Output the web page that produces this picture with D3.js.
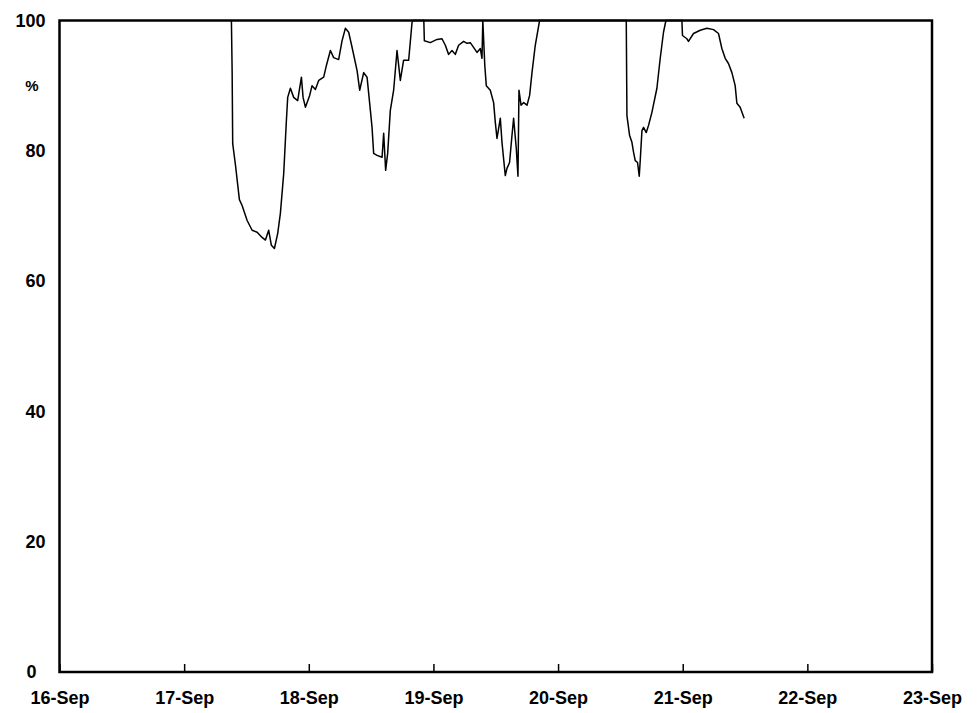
<!DOCTYPE html>
<html>
<head>
<meta http-equiv="content-type" content="text/html; charset=UTF8">
<script src="https://cdn.jsdelivr.net/npm/d3@7/dist/d3.min.js"></script>
<style>
body {
	margin: 0;
	background: #fff;
}
.chart text {
	font-family: "Liberation Sans", Arial, sans-serif;
	font-weight: bold;
	font-size: 18px;
	fill: #000;
}
</style>
</head>
<body>
<svg class="chart" width="980" height="713"></svg>
</body>
<script>
// tick labels, one per day
var dayLabels = ["16-Sep", "17-Sep", "18-Sep", "19-Sep", "20-Sep", "21-Sep", "22-Sep", "23-Sep"];
var yTicks = [0, 20, 40, 60, 80, 100];

// hours since 16-Sep 00:00 and the % reading
var hours = [33.10, 33.24, 33.35, 33.87, 34.64, 35.16, 36.13, 37.09, 38.05, 39.01, 39.65, 40.28, 40.80, 41.38, 42.01, 42.53,
	43.17, 43.69, 43.94, 44.46, 45.09, 45.86, 46.58, 46.90, 47.35, 48.17, 48.63, 49.27, 49.91, 50.87, 51.39, 52.16,
	52.79, 53.75, 54.41, 55.04, 55.68, 56.33, 57.30, 57.80, 58.57, 59.22, 59.86, 60.18, 60.49, 61.14, 62.11, 62.42,
	62.80, 63.19, 63.70, 64.34, 64.99, 65.63, 66.26, 67.23, 67.88, 68.04, 70.15, 70.25, 71.40, 72.69, 73.65, 74.29,
	74.92, 75.58, 76.21, 76.85, 77.81, 78.47, 79.10, 80.39, 81.03, 81.35, 81.51, 81.89, 82.18, 82.95, 83.59, 83.91,
	84.24, 84.55, 84.88, 85.20, 85.51, 85.84, 86.16, 86.66, 87.13, 87.44, 87.95, 88.28, 88.47, 88.87, 89.37, 90.02,
	90.52, 90.98, 91.61, 92.44, 109.13, 109.26, 109.76, 110.22, 110.53, 110.86, 111.30, 111.63, 111.82, 112.15, 112.46,
	112.98, 113.42, 114.07, 115.03, 115.67, 116.30, 116.77, 119.84, 119.96, 120.80, 121.11, 122.08, 123.37, 124.66,
	125.93, 126.89, 127.54, 128.18, 128.81, 129.47, 130.10, 130.43, 131.06, 131.83];
var percent = [100, 92.3, 81.1, 77.9, 72.5, 71.6, 69.3, 67.8, 67.5, 66.7, 66.3, 67.8, 65.5, 65.0, 67.3, 70.4,
	76.5, 84.7, 88.2, 89.6, 88.2, 87.7, 91.3, 88.2, 86.7, 88.5, 90.0, 89.4, 90.8, 91.3, 93.1, 95.4,
	94.3, 94.0, 96.9, 98.8, 98.2, 95.9, 92.3, 89.3, 92.0, 91.3, 86.2, 83.6, 79.6, 79.3, 79.0, 82.7,
	77.0, 79.6, 86.2, 89.3, 95.4, 90.8, 93.9, 93.9, 99.7, 100, 100, 96.9, 96.6, 97.1, 97.2, 96.2,
	94.8, 95.4, 94.8, 96.2, 96.8, 96.5, 96.6, 95.1, 95.7, 94.2, 100, 93.1, 90.0, 89.3, 87.4, 84.4,
	81.9, 83.4, 85.0, 81.3, 78.8, 76.2, 77.3, 78.2, 82.4, 85.0, 80.4, 76.1, 89.3, 87.0, 87.4, 87.0,
	88.5, 92.0, 96.2, 100, 100, 85.4, 82.4, 81.3, 79.8, 78.5, 78.2, 76.1, 78.5, 83.1, 83.6,
	82.8, 83.9, 85.9, 89.6, 94.2, 98.2, 100, 100, 97.7, 97.2, 96.8, 98.0, 98.5, 98.8,
	98.6, 98.0, 95.7, 94.2, 93.4, 92.0, 90.0, 87.3, 86.7, 85.0];

var plotLeft = 59.5, plotRight = 932, plotTop = 20.5, plotBottom = 672;

var svg = d3.select(".chart");

var x = d3.scaleLinear().domain([0, 7]).range([plotLeft, plotRight]);
var y = d3.scaleLinear().domain([0, 100]).range([plotBottom, plotTop]);

var points = hours.map(function(h, i) { return [h / 24, percent[i]]; });

svg.append("path")
	.datum(points)
	.attr("fill", "none")
	.attr("stroke", "#000")
	.attr("stroke-width", 1.5)
	.attr("stroke-linejoin", "round")
	.attr("d", d3.line()
		.x(function(d) { return x(d[0]); })
		.y(function(d) { return y(d[1]); }));

// frame
svg.append("rect")
	.attr("x", plotLeft)
	.attr("y", plotTop)
	.attr("width", plotRight - plotLeft)
	.attr("height", plotBottom - plotTop)
	.attr("fill", "none")
	.attr("stroke", "#000")
	.attr("stroke-width", 2.5);

// x axis: short ticks going up, labels below
var xAxis = d3.axisBottom(x)
	.tickValues(d3.range(8))
	.tickSize(-8)
	.tickPadding(19)
	.tickFormat(function(d) { return dayLabels[d]; });

var gx = svg.append("g")
	.attr("transform", "translate(0," + plotBottom + ")")
	.call(xAxis);
gx.select(".domain").remove();
gx.selectAll("line").attr("stroke", "#000").attr("stroke-width", 1.5);
gx.selectAll("text").attr("font-size", null).attr("font-family", null);

// y axis: labels only
var yAxis = d3.axisLeft(y)
	.tickValues(yTicks)
	.tickSize(0)
	.tickPadding(14);

var gy = svg.append("g")
	.attr("transform", "translate(" + plotLeft + ",0)")
	.call(yAxis);
gy.select(".domain").remove();
gy.selectAll("text").attr("font-size", null).attr("font-family", null);
gy.selectAll(".tick").filter(function(d) { return d === 0; })
	.select("text").attr("dx", -9);

svg.append("text")
	.attr("x", 32)
	.attr("y", y(90))
	.attr("dy", "0.35em")
	.attr("text-anchor", "middle")
	.style("font-size", "15px")
	.text("%");
</script>
</html>
